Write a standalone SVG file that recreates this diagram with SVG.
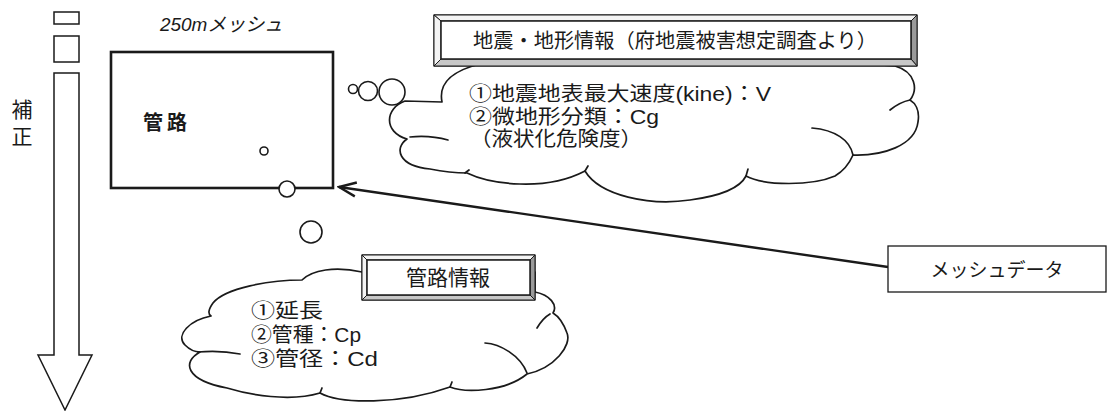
<svg xmlns="http://www.w3.org/2000/svg" width="1108" height="411" viewBox="0 0 1108 411">
<style>
  text { font-family: "Liberation Sans", "Noto Sans CJK JP", sans-serif; fill: #1a1a1a; }
  .cloud { fill: #fff; stroke: #1a1a1a; stroke-width: 1.7; stroke-linejoin: round; }
  .fold { fill: none; stroke: #1a1a1a; stroke-width: 1.7; stroke-linecap: round; }
  .bub { fill: #fff; stroke: #1a1a1a; stroke-width: 1.6; }
  .thin { fill: #fff; stroke: #1a1a1a; stroke-width: 1.5; }
  .bevL { fill: #f4f4f4; stroke: #1a1a1a; stroke-width: 1; }
  .bevD { fill: #9a9a9a; stroke: #1a1a1a; stroke-width: 1; }
  .bevM { fill: #c8c8c8; stroke: #1a1a1a; stroke-width: 1; }
  .ct { font-size: 20px; }
</style>
<defs>
  <marker id="open" markerUnits="userSpaceOnUse" viewBox="-20 -10 22 20" refX="0" refY="0" markerWidth="22" markerHeight="20" orient="auto">
    <path d="M -17,-7 L 0,0 L -17,7" fill="none" stroke="#1a1a1a" stroke-width="2.4" stroke-linejoin="miter"/>
  </marker>
</defs>
<rect x="0" y="0" width="1108" height="411" fill="#fff"/>

<g id="correction-arrow">
  <rect x="54" y="12" width="25" height="12" class="thin"/>
  <rect x="54" y="36" width="25" height="26" class="thin"/>
  <path d="M 54,73 L 79,73 L 79,355 L 92,355 L 65,410 L 38,355 L 54,355 Z" class="thin"/>
  <text x="22" y="117" font-size="21" text-anchor="middle">補</text>
  <text x="22" y="144" font-size="21" text-anchor="middle">正</text>
</g>

<g id="mesh">
  <text x="160" y="31" font-size="19" font-style="italic" textLength="123" lengthAdjust="spacingAndGlyphs">250mメッシュ</text>
  <rect x="111" y="52" width="222" height="136" fill="#fff" stroke="#1a1a1a" stroke-width="2.6"/>
  <text x="143" y="130" font-size="20" font-weight="bold" textLength="44">管路</text>
  <circle cx="264" cy="151" r="4" class="bub"/>
  <circle cx="287" cy="189" r="8" class="bub"/>
  <circle cx="311" cy="232" r="11" class="bub"/>
</g>

<g id="connectors">
  <line x1="888" y1="267" x2="339" y2="187" stroke="#1a1a1a" stroke-width="2.4" marker-end="url(#open)"/>
</g>

<g id="quake-cloud">
  <circle cx="353" cy="89" r="4.5" class="bub"/>
  <circle cx="368" cy="91" r="9.5" class="bub"/>
  <circle cx="392" cy="92" r="13" class="bub"/>
  <path class="cloud" d="M 480,64 C 455,70 438,82 442,102 L 405,101 C 385,108 383,132 407,139 C 394,148 398,166 430,169 C 445,172 458,173 467,173 C 490,184 545,192 585,171 C 600,196 650,206 690,200 C 720,196 740,188 746,176 C 765,186 812,186 835,176 C 845,170 850,162 853,155 C 882,156 915,146 918,122 C 920,110 915,103 910,100 C 918,90 916,72 895,66 L 866,64 Z"/>
  <path class="fold" d="M 410,137 Q 430,135 448,140"/>
  <path class="fold" d="M 812,128 C 835,130 850,140 853,155"/>
  <path class="fold" d="M 890,110 Q 900,102 910,100"/>
  <path class="fold" d="M 585,171 L 588,166"/>
  <path class="fold" d="M 746,176 L 748,169"/>
  <path class="fold" d="M 465,173 L 469,170"/>
  <text class="ct" x="469" y="101" textLength="302" lengthAdjust="spacingAndGlyphs">①地震地表最大速度(kine)：V</text>
  <text class="ct" x="469" y="124" textLength="190" lengthAdjust="spacingAndGlyphs">②微地形分類：Cg</text>
  <text class="ct" x="470" y="146" textLength="172" lengthAdjust="spacingAndGlyphs">（液状化危険度）</text>
</g>

<g id="quake-title">
  <rect x="434" y="15" width="483" height="51" fill="#fff" stroke="#1a1a1a" stroke-width="1.2"/>
  <polygon class="bevL" points="434,15 917,15 911,21 441,21"/>
  <polygon class="bevL" points="434,15 441,21 441,59 434,66"/>
  <polygon class="bevD" points="917,15 917,66 911,59 911,21"/>
  <polygon class="bevM" points="434,66 441,59 911,59 917,66"/>
  <rect x="441" y="21" width="470" height="38" fill="#fff" stroke="#1a1a1a" stroke-width="1.5"/>
  <text x="473" y="48" font-size="20" textLength="404" lengthAdjust="spacingAndGlyphs">地震・地形情報（府地震被害想定調査より）</text>
</g>

<g id="pipe-cloud">
  <path class="cloud" d="M 362,272 C 335,266 312,270 302,280 C 270,280 225,288 213,303 C 208,310 208,314 211,316 C 190,320 175,335 185,345 C 190,350 195,352 200,352 C 182,362 185,380 227,388 C 250,395 290,402 320,393 C 340,404 400,405 450,387 C 465,393 505,392 527,374 C 555,368 572,345 567,333 C 563,322 558,316 553,313 C 558,305 550,295 535,292 L 535,272 Z"/>
  <path class="fold" d="M 198,352 Q 220,350 240,354"/>
  <path class="fold" d="M 485,343 C 500,344 520,355 527,373"/>
  <path class="fold" d="M 537,328 Q 543,318 550,314"/>
  <path class="fold" d="M 320,393 L 322,388"/>
  <path class="fold" d="M 450,387 L 452,382"/>
  <text class="ct" x="251" y="318" textLength="72" lengthAdjust="spacingAndGlyphs">①延長</text>
  <text class="ct" x="251" y="342" textLength="110" lengthAdjust="spacingAndGlyphs">②管種：Cp</text>
  <text class="ct" x="251" y="366" textLength="127" lengthAdjust="spacingAndGlyphs">③管径：Cd</text>
</g>

<g id="pipe-title">
  <rect x="362" y="255" width="173" height="45" fill="#fff" stroke="#1a1a1a" stroke-width="1.2"/>
  <polygon class="bevL" points="362,255 535,255 530,260 367,260"/>
  <polygon class="bevL" points="362,255 367,260 367,295 362,300"/>
  <polygon class="bevD" points="535,255 535,300 530,295 530,260"/>
  <polygon class="bevM" points="362,300 367,295 530,295 535,300"/>
  <rect x="367" y="260" width="163" height="35" fill="#fff" stroke="#1a1a1a" stroke-width="1.5"/>
  <text x="448" y="285" font-size="21" text-anchor="middle">管路情報</text>
</g>

<g id="mesh-data">
  <rect x="888" y="246" width="218" height="46" fill="#fff" stroke="#1a1a1a" stroke-width="1.3"/>
  <text x="997" y="277" font-size="19" text-anchor="middle">メッシュデータ</text>
</g>
</svg>
